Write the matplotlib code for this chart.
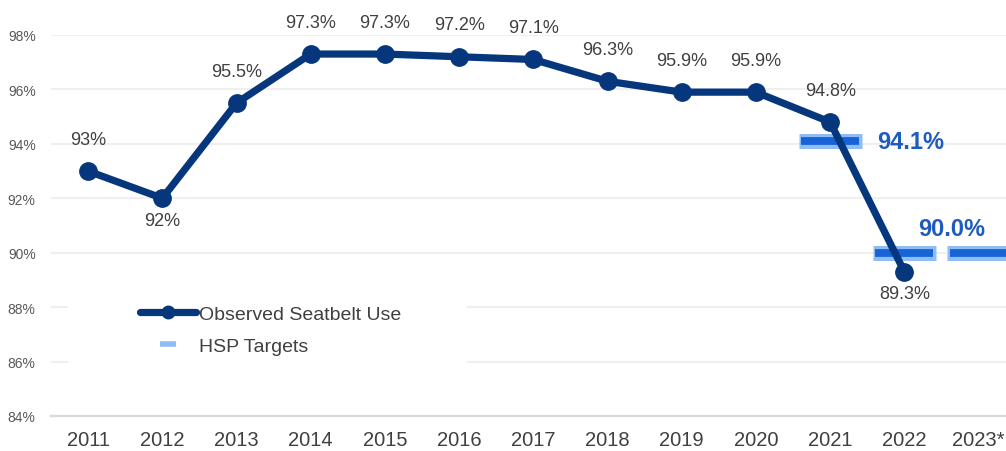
import numpy as np
import matplotlib.pyplot as plt
from matplotlib.lines import Line2D
from matplotlib.patches import Rectangle

plt.rcParams['font.family'] = ['Liberation Sans', 'DejaVu Sans']

# data
years = ['2011', '2012', '2013', '2014', '2015', '2016', '2017',
         '2018', '2019', '2020', '2021', '2022', '2023*']
observed = [93, 92, 95.5, 97.3, 97.3, 97.2, 97.1, 96.3, 95.9, 95.9, 94.8, 89.3]
observed_labels = ['93%', '92%', '95.5%', '97.3%', '97.3%', '97.2%', '97.1%',
                   '96.3%', '95.9%', '95.9%', '94.8%', '89.3%']
label_below = [False, True, False, False, False, False, False,
               False, False, False, False, True]
target_years = ['2021', '2022', '2023*']
targets = [94.1, 90.0, 90.0]
target_labels = ['94.1%', '90.0%']
yticks = [84, 86, 88, 90, 92, 94, 96, 98]

navy = '#06367c'
light_blue = '#8fbdf3'
mid_blue = '#1664d8'
text_blue = '#1e5bbf'
grey_text = '#404040'

fig = plt.figure(figsize=(10.06, 4.52), dpi=100)
ax = fig.add_axes([51 / 1006, 35 / 452, 955 / 1006, 381 / 452])

x = np.arange(len(observed))
tx = np.array([years.index(t) for t in target_years])

ax.set_xlim(-0.5, 12.37)
ax.set_ylim(84, 98)

# grid
ax.set_yticks(yticks)
ax.set_yticklabels([f'{v}%' for v in yticks])
ax.grid(axis='y', color='#efefef', linewidth=1.5, zorder=0)
for s in ['top', 'right', 'left']:
    ax.spines[s].set_visible(False)
ax.spines['bottom'].set_color('#d9d9d9')
ax.spines['bottom'].set_linewidth(1.6)
ax.set_xticks(np.arange(len(years)))
ax.set_xticklabels(years)
ax.tick_params(axis='y', length=0, pad=11, labelsize=10, labelcolor='#595959')
ax.tick_params(axis='x', length=0, pad=10, labelsize=14.5, labelcolor=grey_text)

# targets
ax.hlines(targets, tx - 0.425, tx + 0.425, colors=light_blue, linewidth=10.8,
          zorder=3)
ax.hlines(targets, tx - 0.39, tx + 0.39, colors=mid_blue, linewidth=5.6,
          zorder=4)
ax.text(tx[0] + 0.63, targets[0], target_labels[0], color=text_blue,
        fontsize=17, fontweight='bold', ha='left', va='center')
ax.text(tx[1] + 0.19, targets[1] + 0.9, target_labels[1], color=text_blue,
        fontsize=17, fontweight='bold', ha='left', va='center')

# observed line
ax.plot(x, observed, color=navy, linewidth=5.2, marker='o', markersize=12.5,
        solid_capstyle='round', zorder=5)
for xi, yi, lab, below in zip(x, observed, observed_labels, label_below):
    off = -22 if below else 32
    ax.annotate(lab, (xi, yi), xytext=(0, off * 0.72), textcoords='offset points',
                ha='center', va='center', fontsize=13, color=grey_text)

# legend box
ax.add_patch(Rectangle((-0.27, 85.93), 5.38, 3.1, facecolor='white',
                       edgecolor='none', zorder=2))
handles = [Line2D([], [], color=navy, linewidth=5.2, marker='o', markersize=9,
                  solid_capstyle='round'),
           Line2D([], [], linestyle='none', marker='_', markersize=12,
                  markeredgewidth=4, color=light_blue)]
leg = ax.legend(handles, ['Observed Seatbelt Use', 'HSP Targets'],
                loc='center left', bbox_to_anchor=(0.093, 0.226),
                frameon=False, fontsize=14, handlelength=2.9,
                handletextpad=0.15, labelspacing=0.75, borderpad=0,
                borderaxespad=0)
for t in leg.get_texts():
    t.set_color(grey_text)

fig.savefig('out.png', dpi=100)
